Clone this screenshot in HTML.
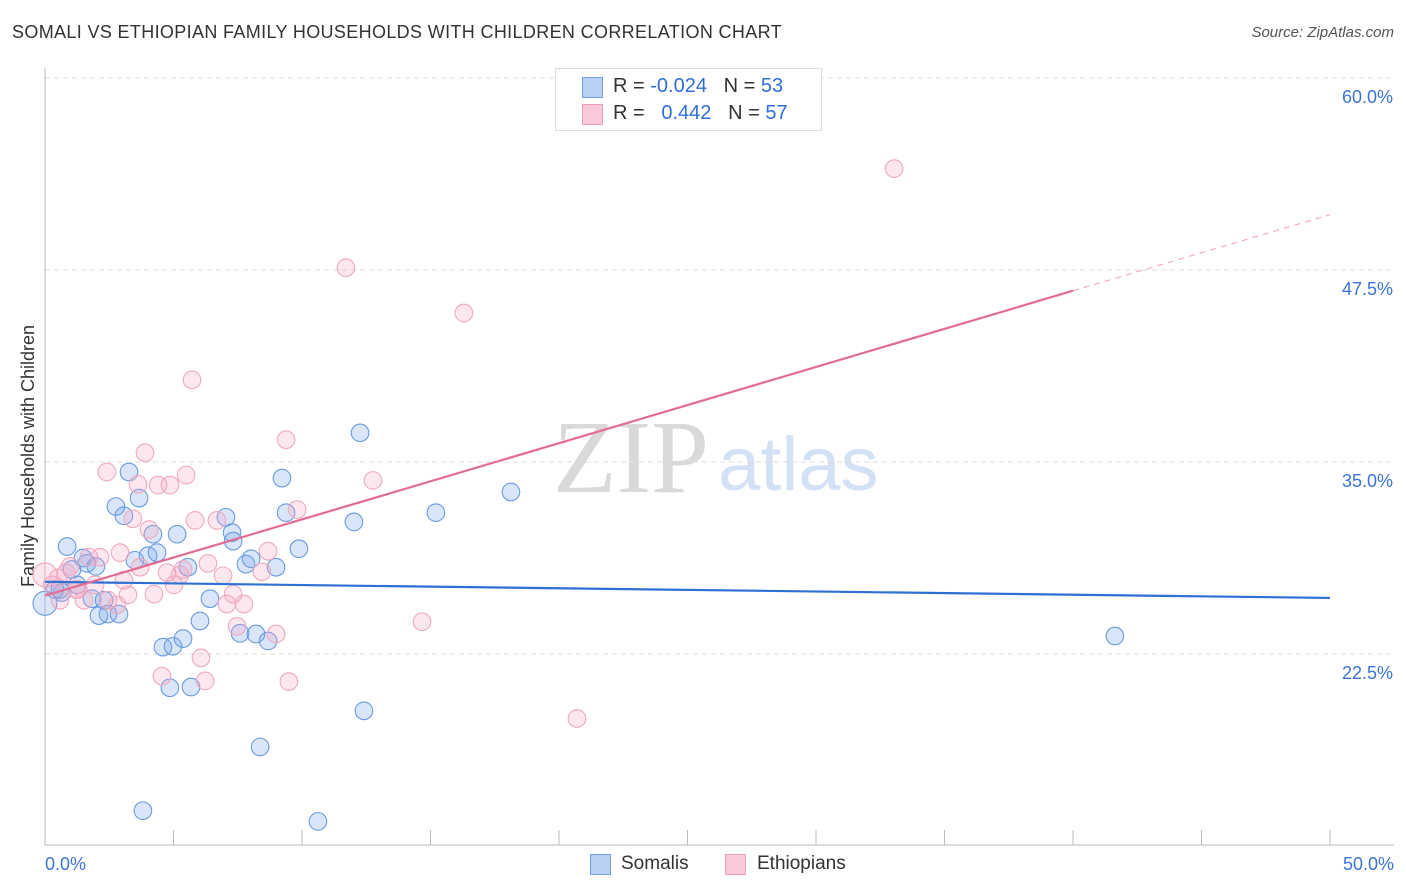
<!DOCTYPE html>
<html><head><meta charset="utf-8"><style>
body{margin:0;background:#fff;font-family:"Liberation Sans",sans-serif;}
#wrap{position:relative;width:1406px;height:892px;overflow:hidden;}
.t{position:absolute;white-space:nowrap;}
</style></head><body>
<div id="wrap">
<div class="t" style="left:12px;top:22px;font-size:18px;color:#333;letter-spacing:0.35px">SOMALI VS ETHIOPIAN FAMILY HOUSEHOLDS WITH CHILDREN CORRELATION CHART</div>
<div class="t" style="right:12px;top:24px;font-size:15px;color:#555;font-style:italic">Source: ZipAtlas.com</div>
<svg id="svg" width="1406" height="892" style="position:absolute;left:0;top:0"></svg>
</div>
<script>
const yTicks=[60,47.5,35,22.5];
const yTickLabels=["60.0%","47.5%","35.0%","22.5%"];
const xTicks=[0,5,10,15,20,25,30,35,40,45,50];
const somaliX=[0,0.86,1.05,0.66,0.39,1.25,1.48,1.63,1.98,1.83,2.10,2.30,2.45,2.88,2.76,3.07,3.27,3.66,3.50,4.01,4.20,4.36,4.59,4.86,4.98,5.14,5.37,5.56,5.68,6.03,6.42,7.04,7.28,7.32,7.59,7.82,8.02,8.21,8.37,8.68,8.99,9.22,9.38,9.88,10.62,3.81,12.02,12.26,12.41,15.21,18.13,41.63,0.58];
const somaliY=[25.8,29.5,28.0,26.5,26.7,27.0,28.75,28.4,28.2,26.1,25.0,26.0,25.1,25.1,32.1,31.5,34.35,32.65,28.6,28.9,30.3,29.1,22.95,20.3,23.0,30.3,23.5,28.15,20.35,24.65,26.1,31.4,30.4,29.85,23.85,28.35,28.7,23.8,16.45,23.35,28.15,33.95,31.7,29.35,11.6,12.3,31.1,36.9,18.8,31.7,33.05,23.67,26.7];
const ethX=[0,0.27,0.51,0.82,0.97,1.21,1.52,1.71,1.95,2.14,2.41,2.45,2.80,2.92,3.07,3.23,3.42,3.62,3.70,3.89,4.05,4.24,4.40,4.55,4.75,4.86,5.02,5.25,5.37,5.49,5.72,5.84,6.07,6.23,6.34,6.69,6.93,7.08,7.32,7.47,7.74,8.44,8.68,8.99,9.38,9.49,9.81,11.71,12.76,14.67,16.30,20.70,33.04,1.28,0.58];
const ethY=[27.65,27.0,27.45,27.8,28.2,26.7,26.0,28.8,27.0,28.8,34.35,26.0,25.7,29.1,27.3,26.35,31.3,33.55,28.15,35.6,30.6,26.4,33.5,21.05,27.8,33.5,27.0,27.65,28.0,34.15,40.35,31.2,22.25,20.75,28.4,31.2,27.6,25.75,26.4,24.3,25.75,27.85,29.2,23.8,36.45,20.7,31.9,47.65,33.8,24.6,44.7,18.3,54.1,26.7,26.0];
const somaliTrend=[27.2,26.15]; // at x=0 and x=50
const ethTrend=[26.3,46.15]; // at x=0 and x=40
const ethTrendExt=51.1; // at x=50
const X=v=>45+v*25.7, Y=v=>78+(60-v)*15.36;
const svg=document.getElementById('svg');const NS='http://www.w3.org/2000/svg';
function mk(tag,attrs,parent){const e=document.createElementNS(NS,tag);for(const k in attrs)e.setAttribute(k,attrs[k]);(parent||svg).appendChild(e);return e;}
let wm=mk('text',{x:553,y:492,'font-size':104,'font-family':'Liberation Serif, serif',fill:'#d9d9d9'});wm.textContent='ZIP';


let wm2=mk('text',{x:718,y:490,'font-size':76,'font-family':'Liberation Sans, sans-serif',fill:'#d2e1f5'});wm2.textContent='atlas';


yTicks.forEach((v,i)=>{
 const g=mk('line',{x1:45,x2:1394,y1:Y(v),y2:Y(v),stroke:'#ddd','stroke-dasharray':'5,4'});
 
 
 const t=mk('text',{x:1393,y:Y(v)+25,'text-anchor':'end','font-size':18,fill:'#3b74d6'});t.textContent=yTickLabels[i];
 
 
});
const ax=mk('line',{x1:45,x2:45,y1:68,y2:845,stroke:'#bbb'});


const bx=mk('line',{x1:45,x2:1394,y1:845,y2:845,stroke:'#bbb'});


xTicks.forEach(v=>{const l=mk('line',{x1:X(v),x2:X(v),y1:830,y2:845,stroke:'#bbb'});
 
 });
[[0,'0.0%','start',45],[50,'50.0%','end',1394]].forEach(a=>{const t=mk('text',{x:a[3],y:870,'text-anchor':a[2],'font-size':18,fill:'#3b74d6'});t.textContent=a[1];
 
 });
const yt=mk('text',{x:34,y:456,'text-anchor':'middle','font-size':18,fill:'#333',transform:'rotate(-90 34 456)'});yt.textContent='Family Households with Children';


function pts(xs,ys,fill,stroke,name){xs.forEach((x,i)=>{const r=(x===0)?12:8.8;const c=mk('circle',{cx:X(x),cy:Y(ys[i]),r:r,fill:fill,stroke:stroke,'stroke-width':1.1});
 
 });}
pts(somaliX,somaliY,'rgba(120,165,235,0.28)','#6a9be0','somali-point');
pts(ethX,ethY,'rgba(245,160,190,0.25)','#eeaac0','ethiopian-point');
const bl=mk('line',{x1:X(0),y1:Y(somaliTrend[0]),x2:X(50),y2:Y(somaliTrend[1]),stroke:'#2f6fd6','stroke-width':2.2});


const pl=mk('line',{x1:X(0),y1:Y(ethTrend[0]),x2:X(40),y2:Y(ethTrend[1]),stroke:'#e46b93','stroke-width':2.2});


const pd=mk('line',{x1:X(40),y1:Y(ethTrend[1]),x2:X(50),y2:Y(ethTrendExt),stroke:'#e9a0b8','stroke-width':1,'stroke-dasharray':'6,5'});


</script>
<div class="t" style="left:555px;top:68px;width:265px;height:61px;border:1px solid #ddd;background:#fff;font-size:20px;">
 <div class="t" style="left:26px;top:8px;width:19px;height:19px;background:#b7d0f3;border:1px solid #6f9fe0"></div>
 <div class="t" style="left:57px;top:6px;color:#333">R = <span style="color:#2f6fd6">-0.024</span>&nbsp;&nbsp;&nbsp;N = <span style="color:#2f6fd6">53</span></div>
 <div class="t" style="left:26px;top:35px;width:19px;height:19px;background:#f9c9d7;border:1px solid #eb9fb7"></div>
 <div class="t" style="left:57px;top:33px;color:#333">R = &nbsp;&nbsp;<span style="color:#2f6fd6">0.442</span>&nbsp;&nbsp;&nbsp;N = <span style="color:#2f6fd6">57</span></div>
</div>
<div class="t" style="left:590px;top:854px;width:19px;height:19px;background:#b7d0f3;border:1px solid #6f9fe0"></div>
<div class="t" style="left:621px;top:853px;font-size:19px;color:#333">Somalis</div>
<div class="t" style="left:725px;top:854px;width:19px;height:19px;background:#f9c9d7;border:1px solid #eb9fb7"></div>
<div class="t" style="left:757px;top:853px;font-size:19px;color:#333">Ethiopians</div>
</body></html>
